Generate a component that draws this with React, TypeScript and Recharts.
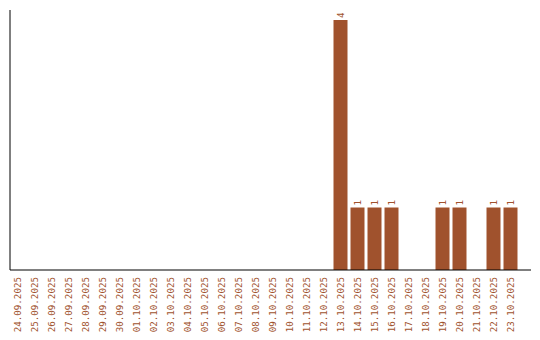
import { Bar, BarChart, LabelList, XAxis, YAxis } from 'recharts';

const dates = [
  '24.09.2025', '25.09.2025', '26.09.2025', '27.09.2025', '28.09.2025', '29.09.2025',
  '30.09.2025', '01.10.2025', '02.10.2025', '03.10.2025', '04.10.2025', '05.10.2025',
  '06.10.2025', '07.10.2025', '08.10.2025', '09.10.2025', '10.10.2025', '11.10.2025',
  '12.10.2025', '13.10.2025', '14.10.2025', '15.10.2025', '16.10.2025', '17.10.2025',
  '18.10.2025', '19.10.2025', '20.10.2025', '21.10.2025', '22.10.2025', '23.10.2025',
];

const counts = [
  0, 0, 0, 0, 0, 0,
  0, 0, 0, 0, 0, 0,
  0, 0, 0, 0, 0, 0,
  0, 4, 1, 1, 1, 0,
  0, 1, 1, 0, 1, 1,
];

const BROWN = '#A0522D';
const FONT = '"DejaVu Sans Mono", monospace';

const data = dates.map((date, i) => ({ date, count: counts[i] }));

// rotated date labels under the axis, reading bottom-to-top
function DateTick(props: any) {
  const { x, y, payload } = props;
  const ty = y + 7;
  return (
    <g transform={`translate(${x}, ${ty}) rotate(-90)`}>
      <text
        x={0}
        y={0}
        textAnchor="end"
        dominantBaseline="central"
        fill={BROWN}
        style={{ fontSize: '9.2px', fontFamily: FONT }}
      >
        {payload.value}
      </text>
    </g>
  );
}

// value above each bar, also rotated; zero bars get nothing
function ValueLabel(props: any) {
  const { x, y, width, value } = props;
  if (!value) return null;
  const cx = x + width / 2;
  const ty = y - 2;
  return (
    <g transform={`translate(${cx}, ${ty}) rotate(-90)`}>
      <text
        x={0}
        y={0}
        textAnchor="start"
        dominantBaseline="central"
        fill={BROWN}
        style={{ fontSize: '9.2px', fontFamily: FONT }}
      >
        {value}
      </text>
    </g>
  );
}

export default function App() {
  return (
    <div style={{ margin: -8, width: 540, height: 340, background: '#fff' }}>
      <BarChart
        width={540}
        height={340}
        data={data}
        margin={{ top: 10, right: 9, bottom: 0, left: 9 }}
        barSize={14}
      >
        <XAxis
          dataKey="date"
          interval={0}
          height={70}
          tickLine={false}
          tickSize={0}
          tickMargin={0}
          axisLine={{ stroke: '#000' }}
          tick={<DateTick />}
          padding={{ left: -1.5, right: 12.5 }}
        />
        <YAxis
          width={1}
          domain={[0, 4]}
          tick={false}
          tickLine={false}
          axisLine={{ stroke: '#000' }}
          padding={{ top: 10, bottom: 0 }}
        />
        <Bar dataKey="count" fill={BROWN} isAnimationActive={false}>
          <LabelList dataKey="count" content={<ValueLabel />} />
        </Bar>
      </BarChart>
    </div>
  );
}
